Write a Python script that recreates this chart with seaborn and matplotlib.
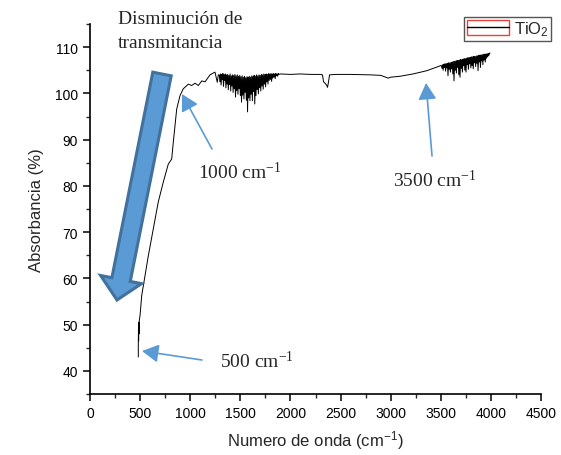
import numpy as np
import pandas as pd
import matplotlib
matplotlib.use("Agg")
import matplotlib.pyplot as plt
import seaborn as sns
from matplotlib.patches import FancyArrowPatch, Rectangle
from matplotlib.lines import Line2D
from matplotlib.ticker import MultipleLocator

# ---------------- data ----------------
rise_x = [482, 482, 484, 485, 487, 489, 492, 499, 516, 549, 582, 632, 681, 731,
          781, 800, 815, 831, 865, 898, 931, 981, 1015, 1048, 1081, 1115, 1148,
          1197, 1247, 1270, 1280]
rise_y = [43.0, 46.0, 49.5, 46.5, 50.5, 48.0, 51.0, 51.9, 56.3, 60.6, 64.9, 70.7,
          76.5, 80.8, 84.7, 85.3, 85.8, 89.4, 96.6, 99.5, 101.0, 102.0, 101.7,
          102.2, 101.7, 102.7, 102.5, 104.0, 104.6, 102.4, 104.0]

noisy1_start, noisy1_step = 1290, 6
noisy1_y = [104.0, 102.5, 104.2, 101.8, 104.1, 103.0, 104.3, 101.5, 104.0, 102.8, 104.2,
            101.2, 104.0, 102.0, 104.1, 100.8, 103.9, 101.9, 104.2, 100.5, 103.8, 101.6, 104.0, 100.2, 103.9, 101.0, 104.1,
            99.2, 103.8, 100.6, 104.0, 99.8, 103.7, 101.0, 103.9, 99.5,
            103.6, 98.1, 103.8, 99.6, 103.5, 98.8, 103.7, 100.2, 103.4, 98.5, 103.6, 96.0, 103.5, 99.0, 103.7, 98.4,
            103.5, 99.8, 103.8, 98.4, 103.6, 100.4, 103.9, 97.7, 103.7, 99.5, 104.0,
            100.8, 103.8, 99.9, 104.0, 101.2, 103.9, 100.5, 104.1, 101.6, 104.0, 100.9, 104.2, 102.0, 104.1, 101.4, 104.2,
            102.5, 104.1, 102.0, 104.3, 102.8, 104.2, 103.0, 104.3, 102.6, 104.2, 103.3, 104.3, 103.5, 104.2, 103.2, 104.3,
            103.8, 104.2, 103.7, 104.3, 104.1]

flat_x = [1900, 2000, 2100, 2200, 2300, 2320, 2330, 2345, 2360, 2370, 2380, 2390,
          2450, 2600, 2800, 2900, 2950, 2975, 3000, 3093, 3223, 3360, 3450, 3500]
flat_y = [104.2, 104.1, 104.2, 104.1, 104.1, 104.0, 102.5, 102.2, 101.8, 101.3, 102.5,
          104.0, 104.1, 104.1, 104.0, 103.9, 103.5, 103.3, 103.5, 103.7, 104.2, 104.9,
          105.6, 106.0]

noisy2_start, noisy2_step = 3506, 6
noisy2_y = [106.0, 105.4, 106.2, 105.0, 106.3, 105.6, 106.4, 104.8, 106.4, 105.5,
            106.5, 103.8, 106.6, 105.2, 106.6, 104.6, 106.7, 105.3, 106.8, 104.2,
            106.9, 102.7, 106.9, 105.0, 107.0, 104.4, 107.1, 105.6, 107.1, 104.0,
            107.2, 103.5, 107.3, 105.4, 107.3, 104.6, 107.4, 106.0, 107.5, 105.0,
            107.5, 104.6, 107.6, 106.2, 107.7, 105.2, 107.7, 106.4, 107.8, 105.5,
            107.9, 106.0, 107.9, 105.3, 108.0, 106.6, 108.0, 105.8, 108.1, 106.5,
            108.1, 104.9, 108.2, 106.8, 108.3, 105.6, 108.3, 107.0, 108.4, 106.2,
            108.4, 107.2, 108.5, 106.8, 108.5, 107.6, 108.6, 107.9, 108.6, 108.2, 108.7, 108.7]

x_ticks = [0, 500, 1000, 1500, 2000, 2500, 3000, 3500, 4000, 4500]
y_ticks = [40, 50, 60, 70, 80, 90, 100, 110]

noisy1_x = [noisy1_start + noisy1_step * i for i in range(len(noisy1_y))]
noisy2_x = [noisy2_start + noisy2_step * i for i in range(len(noisy2_y))]
wn = rise_x + noisy1_x + flat_x + noisy2_x
ab = rise_y + noisy1_y + flat_y + noisy2_y
df = pd.DataFrame({"wn": wn, "ab": ab, "order": range(len(wn))})

# ---------------- style ----------------
sns.set_style("ticks")
plt.rcParams["font.family"] = ["Liberation Sans", "DejaVu Sans"]
plt.rcParams["mathtext.default"] = "regular"

W, H = 561, 456
fig = plt.figure(figsize=(W / 100, H / 100), dpi=100)
ax = fig.add_axes([90 / W, 1 - 395 / H, (541 - 90) / W, (395 - 25) / H])

sns.lineplot(data=df, x="wn", y="ab", sort=False, estimator=None, color="black",
             lw=0.7, ax=ax, legend=False)

ax.set_xlim(0, 4500)
ax.set_ylim(35, 115)
ax.set_xticks(x_ticks)
ax.set_yticks(y_ticks)
ax.xaxis.set_minor_locator(MultipleLocator(250))
ax.yaxis.set_minor_locator(MultipleLocator(5))
ax.tick_params(which="major", direction="out", length=5, width=1.1, labelsize=10, colors="black")
ax.tick_params(which="minor", direction="out", length=3, width=1.0)
sns.despine(ax=ax)
for s in ["left", "bottom"]:
    ax.spines[s].set_linewidth(1.2)
    ax.spines[s].set_color("black")
ax.set_xlabel("Numero de onda (cm$^{-1}$)", fontsize=12, labelpad=6)
ax.set_ylabel("Absorbancia (%)", fontsize=12, labelpad=8)

# legend
h_rect = Rectangle((0, 0), 1, 1, facecolor="none", edgecolor="#e8403a", lw=1.0)
h_line = Line2D([], [], color="black", lw=1.0)
leg = fig.legend([(h_rect, h_line)], ["TiO$_2$"], loc="upper right",
                 bbox_to_anchor=(551 / W, 1 - 18 / H), fontsize=12,
                 handlelength=2.5, handleheight=1.0, handletextpad=0.3,
                 borderpad=0.15, borderaxespad=0, fancybox=False, framealpha=1,
                 edgecolor="#555555")
leg.get_frame().set_linewidth(1.0)

# ---------------- annotations (pixel positions, top-left origin) ----------------
def P(px, py):
    return (px, H - py)

serif = ["Liberation Serif", "DejaVu Serif"]
blue = "#5B9BD5"
dblue = "#41719C"

fig.text(118 / W, 1 - 19 / H, "Disminución de", family=serif, fontsize=14, va="center", ha="left")
fig.text(118 / W, 1 - 43 / H, "transmitancia", family=serif, fontsize=14, va="center", ha="left")
fig.text(198 / W, 1 - 172 / H, "1000 cm$^{-1}$", family=serif, fontsize=14, va="center", ha="left")
fig.text(393 / W, 1 - 180 / H, "3500 cm$^{-1}$", family=serif, fontsize=14, va="center", ha="left")
fig.text(220 / W, 1 - 362 / H, "500 cm$^{-1}$", family=serif, fontsize=14, va="center", ha="left")

big = FancyArrowPatch(P(162, 75), P(117, 301), transform=None,
                      arrowstyle="simple,head_length=1.5,head_width=3.0,tail_width=1.35",
                      mutation_scale=10, facecolor=blue, edgecolor=dblue, lw=2.2,
                      shrinkA=0, shrinkB=0, joinstyle="miter")
fig.patches.append(big)

for tail, tip in [((212, 150), (182, 95)), ((432, 157), (426, 84)), ((202, 361), (142, 352))]:
    a = FancyArrowPatch(P(*tail), P(*tip), transform=None,
                        arrowstyle="-|>,head_length=1.0,head_width=0.55",
                        mutation_scale=10, color=blue, lw=1.2, shrinkA=0, shrinkB=0)
    fig.patches.append(a)

fig.savefig("out.png", dpi=100)
